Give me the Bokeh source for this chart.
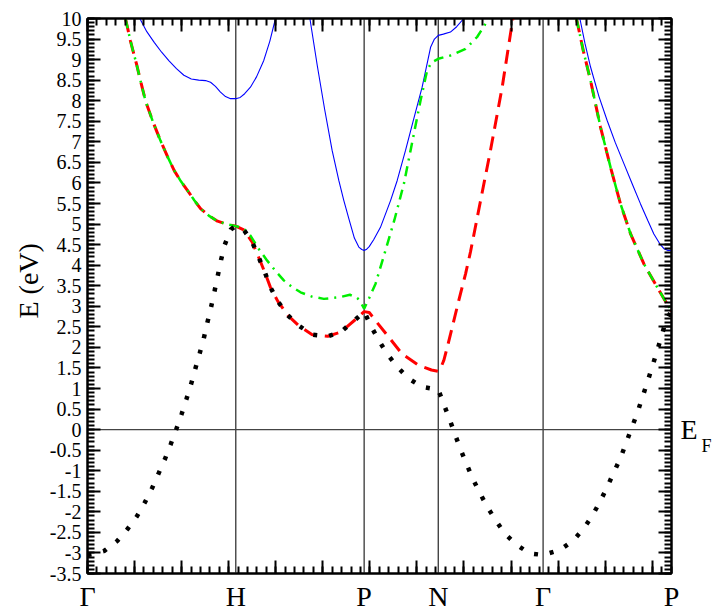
import math
from bokeh.plotting import figure
from bokeh.models import FixedTicker, LinearAxis, Span, Range1d, Title
from bokeh.embed import file_html
from bokeh.resources import INLINE

# ---- k-path (high-symmetry points) ----
KPOS = [0.0, 1.0, 1.866, 2.366, 3.073, 3.939]
KLABELS = ["Γ", "H", "P", "N", "Γ", "P"]

# ---- y ticks ----
YTICKS = [-3.5, -3.0, -2.5, -2.0, -1.5, -1.0, -0.5, 0.0, 0.5, 1.0, 1.5, 2.0, 2.5, 3.0,
          3.5, 4.0, 4.5, 5.0, 5.5, 6.0, 6.5, 7.0, 7.5, 8.0, 8.5, 9.0, 9.5, 10.0]
YTICK_LABELS = ["-3.5", "-3", "-2.5", "-2", "-1.5", "-1", "-0.5", "0", "0.5", "1", "1.5", "2", "2.5", "3",
                "3.5", "4", "4.5", "5", "5.5", "6", "6.5", "7", "7.5", "8", "8.5", "9", "9.5", "10"]
XTICK_STEP = 0.3174
FERMI = 0.0

# ---- band 1 (black dotted) ----
BLACK_K = [0.0, 0.05, 0.113, 0.200, 0.270, 0.333, 0.387, 0.436, 0.479, 0.522, 0.562, 0.598, 0.634,
           0.668, 0.699, 0.728, 0.757, 0.785, 0.809, 0.834, 0.857, 0.879, 0.901, 0.926, 0.967, 1.0,
           1.054, 1.111, 1.156, 1.2, 1.234, 1.284, 1.351, 1.425, 1.516, 1.621, 1.707, 1.808, 1.866,
           1.913, 1.965, 2.023, 2.089, 2.163, 2.255, 2.366,
           2.403, 2.442, 2.478, 2.516, 2.556, 2.599, 2.646, 2.698, 2.754, 2.815, 2.894, 2.981, 3.073,
           3.19, 3.276, 3.348, 3.40, 3.45, 3.50, 3.55, 3.595, 3.633, 3.669, 3.708, 3.741, 3.775,
           3.81, 3.85, 3.899, 3.939]
BLACK_E = [-3.05, -3.02, -2.95, -2.71, -2.42, -2.11, -1.77, -1.42, -1.07, -0.72, -0.35, 0.0, 0.37,
           0.75, 1.11, 1.49, 1.86, 2.23, 2.61, 2.99, 3.37, 3.75, 4.13, 4.50, 4.87, 4.95,
           4.86, 4.56, 4.18, 3.79, 3.46, 3.12, 2.78, 2.53, 2.31, 2.27, 2.37, 2.68, 2.87,
           2.51, 2.17, 1.83, 1.53, 1.25, 1.04, 0.97,
           0.62, 0.25, -0.11, -0.48, -0.83, -1.20, -1.54, -1.89, -2.21, -2.53, -2.80, -3.01, -3.05,
           -2.92, -2.70, -2.40, -2.12, -1.80, -1.44, -1.04, -0.69, -0.32, 0.03, 0.40, 0.77, 1.14,
           1.54, 2.01, 2.61, 2.90]

# ---- band 2 (red dashed) ----
RED_K_A = [0.256, 0.29, 0.330, 0.36, 0.391, 0.44, 0.492, 0.54, 0.585, 0.63, 0.674, 0.72, 0.764,
           0.82, 0.877, 0.944, 1.0,
           1.054, 1.111, 1.156, 1.2, 1.234, 1.284, 1.351, 1.425, 1.516, 1.621, 1.707, 1.808, 1.866,
           1.90, 1.943, 2.032, 2.122, 2.235, 2.32, 2.366,
           2.38, 2.403, 2.43, 2.46, 2.504, 2.55, 2.583, 2.65, 2.718, 2.797, 2.869]
RED_E_A = [10.0, 9.45, 8.9, 8.45, 8.0, 7.50, 7.03, 6.64, 6.30, 6.04, 5.82, 5.58, 5.37,
           5.20, 5.07, 4.99, 4.95,
           4.86, 4.56, 4.18, 3.79, 3.46, 3.12, 2.78, 2.53, 2.31, 2.27, 2.37, 2.68, 2.87,
           2.85, 2.65, 2.25, 1.84, 1.56, 1.45, 1.42,
           1.48, 1.68, 2.05, 2.49, 3.14, 3.79, 4.32, 5.55, 6.79, 8.33, 10.0]
RED_K_B = [3.298, 3.345, 3.393, 3.46, 3.528, 3.595, 3.663, 3.753, 3.843, 3.91, 3.939]
RED_E_B = [10.0, 9.2, 8.49, 7.36, 6.38, 5.49, 4.76, 4.03, 3.46, 3.05, 2.88]

# ---- band 3 (green dash-dot) ----
GREEN_K_A = [0.256, 0.29, 0.330, 0.36, 0.391, 0.44, 0.492, 0.54, 0.585, 0.63, 0.674, 0.72, 0.764,
             0.82, 0.877, 0.944, 1.0,
             1.05, 1.099, 1.15, 1.212, 1.27, 1.324, 1.38, 1.437, 1.51, 1.594, 1.70, 1.77, 1.82, 1.845, 1.866,
             1.90, 1.943, 2.01, 2.07, 2.134, 2.179, 2.246, 2.291, 2.32, 2.366,
             2.448, 2.55, 2.628, 2.707]
GREEN_E_A = [10.0, 9.45, 8.9, 8.45, 8.0, 7.50, 7.03, 6.64, 6.30, 6.04, 5.82, 5.58, 5.37,
             5.20, 5.07, 4.99, 4.95,
             4.90, 4.72, 4.42, 4.11, 3.85, 3.63, 3.47, 3.34, 3.24, 3.18, 3.22, 3.28, 3.20, 3.08, 2.94,
             3.20, 3.55, 4.36, 5.10, 5.98, 6.79, 8.0, 8.74, 8.93, 9.02,
             9.10, 9.26, 9.55, 10.0]
GREEN_K_B = [3.298, 3.345, 3.393, 3.46, 3.528, 3.595, 3.663, 3.753, 3.843, 3.91, 3.939]
GREEN_E_B = [10.0, 9.2, 8.49, 7.36, 6.38, 5.49, 4.76, 4.03, 3.46, 3.05, 2.90]

# ---- band 4 (blue solid) ----
BLUE_K_A = [0.353, 0.40, 0.45, 0.50, 0.55, 0.60, 0.65, 0.70, 0.75, 0.796, 0.83, 0.863, 0.897,
            0.931, 0.965, 1.0,
            1.03, 1.06, 1.099, 1.14, 1.189, 1.23, 1.268]
BLUE_E_A = [10.0, 9.68, 9.42, 9.18, 8.97, 8.78, 8.62, 8.53, 8.50, 8.49, 8.45, 8.35, 8.21,
            8.10, 8.05, 8.05,
            8.08, 8.17, 8.33, 8.58, 8.98, 9.45, 10.0]
BLUE_K_B = [1.50, 1.55, 1.60, 1.650, 1.695, 1.729, 1.765, 1.80, 1.83, 1.85, 1.866,
            1.88, 1.90, 1.93, 1.976, 2.044, 2.089, 2.145, 2.20, 2.257, 2.314, 2.34, 2.366,
            2.40, 2.448, 2.49, 2.538]
BLUE_E_B = [10.0, 8.85, 7.78, 6.79, 6.06, 5.57, 5.10, 4.66, 4.44, 4.38, 4.36,
            4.38, 4.45, 4.62, 4.92, 5.57, 6.06, 6.79, 7.55, 8.33, 9.30, 9.50, 9.59,
            9.62, 9.67, 9.80, 10.0]
BLUE_K_C = [3.321, 3.355, 3.393, 3.45, 3.505, 3.56, 3.618, 3.675, 3.73, 3.78, 3.82, 3.86, 3.888,
            3.915, 3.939]
BLUE_E_C = [10.0, 9.4, 8.82, 8.10, 7.52, 6.98, 6.47, 5.97, 5.49, 5.08, 4.76, 4.52, 4.40,
            4.36, 4.36]

for a, b in [(BLACK_K, BLACK_E), (RED_K_A, RED_E_A), (RED_K_B, RED_E_B), (GREEN_K_A, GREEN_E_A),
             (GREEN_K_B, GREEN_E_B), (BLUE_K_A, BLUE_E_A), (BLUE_K_B, BLUE_E_B), (BLUE_K_C, BLUE_E_C)]:
    assert len(a) == len(b), (len(a), len(b))

FONT = "Liberation Serif"

p = figure(frame_width=584, frame_height=555,
           x_range=Range1d(KPOS[0], KPOS[-1]), y_range=Range1d(YTICKS[0], YTICKS[-1]),
           output_backend="svg", toolbar_location=None,
           min_border_left=87, min_border_right=42, min_border_top=18, min_border_bottom=39)
p.xgrid.visible = False
p.ygrid.visible = False
p.outline_line_color = "black"
p.outline_line_width = 2
p.background_fill_color = "white"
p.border_fill_color = "white"

nmaj = int(round(KPOS[-1] / XTICK_STEP))
xmajor = [i * XTICK_STEP for i in range(nmaj + 1)]
xminor = [i * XTICK_STEP / 5 for i in range(5 * nmaj + 6) if i * XTICK_STEP / 5 <= KPOS[-1]]
xticker = FixedTicker(ticks=xmajor, minor_ticks=xminor)
yminor = [YTICKS[0] + 0.1 * i for i in range(136)]
yticker = FixedTicker(ticks=YTICKS, minor_ticks=yminor)


def style(ax, labels):
    ax.axis_line_color = "black"
    ax.axis_line_width = 2
    ax.major_tick_in = 13
    ax.major_tick_out = 0
    ax.minor_tick_in = 7
    ax.minor_tick_out = 0
    ax.major_tick_line_width = 2
    ax.minor_tick_line_width = 2
    ax.major_tick_line_color = "black"
    ax.minor_tick_line_color = "black"
    if labels:
        ax.major_label_text_font = FONT
        ax.major_label_text_font_size = "20px"
        ax.major_label_text_color = "black"
        ax.major_label_standoff = 6
    else:
        ax.major_label_text_color = None
        ax.major_label_text_font_size = "1px"
        ax.major_label_standoff = 0


def text_axis(ticks, labels, size, standoff):
    ax = LinearAxis(ticker=FixedTicker(ticks=ticks, minor_ticks=[]))
    ax.major_label_overrides = {t: s for t, s in zip(ticks, labels)}
    ax.axis_line_color = None
    ax.major_tick_line_color = None
    ax.minor_tick_line_color = None
    ax.major_tick_in = 0
    ax.major_tick_out = 0
    ax.major_label_text_font = FONT
    ax.major_label_text_font_size = size
    ax.major_label_text_color = "black"
    ax.major_label_standoff = standoff
    return ax


p.xaxis.ticker = xticker
style(p.xaxis[0], False)
p.yaxis.ticker = yticker
p.yaxis.major_label_overrides = {t: s for t, s in zip(YTICKS, YTICK_LABELS)}
style(p.yaxis[0], True)

top = LinearAxis(ticker=xticker)
style(top, False)
p.add_layout(top, "above")
right = LinearAxis(ticker=yticker)
style(right, False)
p.add_layout(right, "right")

# k-point labels (an extra bottom axis)
p.add_layout(text_axis(KPOS, KLABELS, "28px", 7), "below")
# Fermi level label E_F (extra right axes)
p.add_layout(text_axis([FERMI], ["E"], "28px", 9), "right")
p.add_layout(text_axis([FERMI - 0.4], ["F"], "18px", 1), "right")

# axis title
p.add_layout(Title(text="E (eV)", align="left", offset=255, text_font=FONT, text_font_size="28px",
                   text_font_style="normal", text_color="black", standoff=6), "left")

# symmetry lines and Fermi level
for k in KPOS[1:-1]:
    p.add_layout(Span(location=k, dimension="height", line_color="#444444", line_width=1.4, level="underlay"))
p.add_layout(Span(location=FERMI, dimension="width", line_color="#444444", line_width=1.4, level="underlay"))

# bands
p.multi_line([BLUE_K_A, BLUE_K_B, BLUE_K_C], [BLUE_E_A, BLUE_E_B, BLUE_E_C],
             line_color="#0000ff", line_width=1.1)
p.multi_line([RED_K_A, RED_K_B], [RED_E_A, RED_E_B],
             line_color="#ff0000", line_width=3, line_dash="14 8")
p.multi_line([GREEN_K_A, GREEN_K_B], [GREEN_E_A, GREEN_E_B],
             line_color="#00ee00", line_width=2.5, line_dash="10 6 2 6")
p.line(BLACK_K, BLACK_E, line_color="black", line_width=4.5, line_dash="4 12")

open("out.html", "w").write(file_html(p, INLINE))
